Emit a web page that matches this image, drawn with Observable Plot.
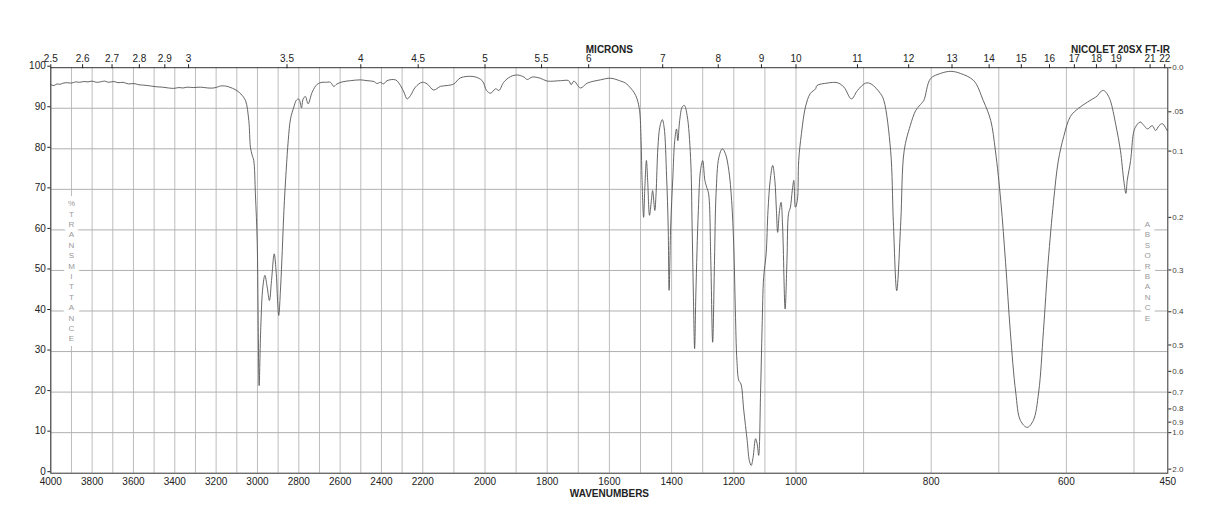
<!DOCTYPE html>
<html><head><meta charset="utf-8">
<script src="https://cdn.jsdelivr.net/npm/d3@7"></script>
<script src="https://cdn.jsdelivr.net/npm/@observablehq/plot@0.6"></script>
<style>
body{margin:0;background:#fff;}
</style></head><body>
<script>
// Spectrum readings: wavenumber (cm-1) and % transmittance
const wavenumber = [
4000,3985,3970,3955,3940,3921,3900,3880,3860,3840,3820,3800,3780,3760,3740,3720,3695,3675,3650,3625,
3598,3575,3550,3518,3490,3460,3430,3405,3380,3360,3340,3310,3276,3240,3211,3190,3179,3160,3147,3120,
3098,3080,3058,3042,3034,3026,3018,3010,3001,2997,2992,2984,2974,2964,2953,2942,2932,2919,2909,2902,
2897,2888,2880,2872,2861,2851,2840,2824,2813,2803,2797,2787,2779,2768,2755,2735,2711,2687,2671,2647,
2631,2615,2590,2550,2502,2470,2437,2421,2405,2390,2373,2332,2308,2290,2276,2260,2236,2203,2186,2165,
2143,2122,2100,2079,2036,2009,1995,1982,1966,1955,1940,1918,1896,1875,1864,1848,1822,1800,1757,1731,
1723,1714,1693,1671,1629,1596,1564,1548,1532,1520,1511,1503,1498,1495,1490,1486,1481,1477,1471,1465,
1461,1454,1450,1444,1438,1430,1424,1416,1411,1408,1403,1396,1390,1384,1380,1374,1366,1359,1350,1339,
1334,1330,1326,1322,1314,1307,1300,1293,1287,1281,1274,1268,1262,1257,1248,1237,1227,1216,1207,1200,
1195,1190,1184,1177,1168,1157,1150,1144,1138,1130,1125,1120,1114,1109,1104,1096,1090,1083,1075,1068,
1063,1059,1053,1048,1043,1035,1029,1024,1018,1012,1007,1002,998,996,992,986,979,971,969,954,
939,929,918,909,897,889,875,870,860,856,851,845,840,831,823,816,811,801,786,771,
757,737,723,712,705,697,690,683,675,668,658,649,641,634,627,619,612,604,594,582,
569,554,550,545,540,535,527,520,515,512,510,505,501,498,491,485,480,473,468,463,
458,451
];
const transmittance = [
95.8,95.6,96.0,95.9,96.2,96.3,96.2,96.5,96.4,96.6,96.5,96.7,96.4,96.5,96.7,96.4,96.6,96.3,96.4,96.0,
96.1,95.8,95.7,95.5,95.3,95.2,95.0,94.9,95.1,95.0,95.2,95.1,95.2,95.0,95.0,95.3,95.5,95.5,95.4,94.9,
94.3,93.5,91.9,87.0,80.4,78.5,77.1,68.9,56.6,40.1,21.6,36.0,45.9,48.8,45.9,42.6,47.5,54.1,49.2,41.8,
38.9,45.9,54.9,64.8,74.7,82.1,87.4,90.3,91.9,92.3,92.1,90.1,92.3,92.9,91.1,94.0,95.9,96.4,96.4,96.4,
95.4,96.0,96.5,96.8,97.0,96.8,96.6,96.1,96.4,96.0,96.8,97.0,95.6,93.8,92.3,93.1,95.2,96.4,96.0,94.5,
95.4,95.6,96.0,97.5,97.8,96.8,94.4,93.7,94.8,94.4,96.4,97.8,98.2,97.7,97.1,97.7,97.4,96.7,96.8,96.8,
95.8,96.7,95.0,96.2,97.0,97.4,96.7,96.2,95.0,93.8,92.3,89.4,82.0,72.2,63.1,70.5,77.1,72.2,63.6,67.3,
69.7,64.8,68.9,80.4,85.3,87.2,85.3,73.0,60.7,45.1,60.7,73.0,82.0,84.9,82.0,87.0,90.3,90.7,88.2,77.9,
60.7,44.2,30.7,44.2,64.8,74.7,77.1,72.2,70.5,68.9,52.5,32.3,52.5,68.9,77.9,80.0,78.8,74.7,67.3,55.7,
40.1,27.8,22.9,22.0,15.5,8.1,3.1,1.9,3.9,8.5,7.3,4.4,19.6,36.0,48.3,54.1,64.8,72.2,75.9,72.2,
64.8,59.4,64.8,66.8,60.7,40.5,52.5,64.0,65.6,69.7,72.2,65.6,67.3,77.1,83.7,90.3,93.6,94.8,95.6,96.2,
96.3,95.2,92.3,94.4,96.2,96.0,93.6,91.9,79.5,62.0,45.0,62.0,79.5,85.7,89.4,90.9,91.9,97.3,98.6,99.1,
98.6,96.8,91.9,87.0,79.5,67.0,52.0,35.0,20.0,13.0,11.3,13.0,20.0,35.0,52.0,67.0,77.0,83.0,88.0,90.0,
91.5,93.1,94.0,94.4,93.6,91.9,86.0,79.5,72.0,69.0,72.2,77.1,83.7,85.3,86.6,85.7,84.9,85.7,84.5,85.7,
86.2,84.5
];

const wavenumberTicks = [4000,3800,3600,3400,3200,3000,2800,2600,2400,2200,2000,1800,1600,1400,1200,1000,800,600,450];
const micronTicks = [2.5,2.6,2.7,2.8,2.9,3,3.5,4,4.5,5,5.5,6,7,8,9,10,11,12,13,14,15,16,17,18,19,21,22];
const transmittanceTicks = [0,10,20,30,40,50,60,70,80,90,100];
const absorbanceTicks = [0,0.05,0.1,0.2,0.3,0.4,0.5,0.6,0.7,0.8,0.9,1.0,2.0];
const gridWavenumbers = d3.range(500, 4001, 100);
const gridTransmittance = [10,20,30,40,50,60,70,80,90];

const spectrum = wavenumber.map((w, i) => ({w, t: transmittance[i]}));

const chart = Plot.plot({
  width: 1218,
  height: 528,
  marginTop: 67.2,
  marginBottom: 55.3,
  marginLeft: 50.3,
  marginRight: 50.7,
  style: {fontFamily: "'Liberation Sans', Arial, Helvetica, sans-serif", fontSize: "10px", background: "#fff", color: "#222"},
  x: {type: "linear", domain: [4000, 2200, 1000, 450], range: [50.3, 422.3, 795.5, 1167.3]},
  y: {domain: [0, 100]},
  marks: [
    Plot.gridX(gridWavenumbers, {stroke: "#bdbdbd", strokeOpacity: 1}),
    Plot.gridY(gridTransmittance, {stroke: "#b0b0b0", strokeOpacity: 1}),
    Plot.text([{w: 3900, t: 50, s: "%\nT\nR\nA\nN\nS\nM\nI\nT\nT\nA\nN\nC\nE"}],
      {x: "w", y: "t", text: "s", fontSize: 8, lineHeight: 1.3, fill: "#999", stroke: "white", strokeWidth: 10}),
    Plot.text([{w: 480, t: 50, s: "A\nB\nS\nO\nR\nB\nA\nN\nC\nE"}],
      {x: "w", y: "t", text: "s", fontSize: 8, lineHeight: 1.3, fill: "#999", stroke: "white", strokeWidth: 10}),
    Plot.line(spectrum, {x: "w", y: "t", stroke: "#555", strokeWidth: 0.9, curve: "catmull-rom"}),
    Plot.frame({stroke: "#333", strokeWidth: 1}),
    Plot.axisX(wavenumberTicks, {anchor: "bottom", tickSize: 0, tickPadding: 5, tickFormat: d => String(d), label: null, fontSize: 10}),
    Plot.axisX(micronTicks.map(m => 10000 / m), {anchor: "top", tickSize: 4, tickPadding: 2, tickFormat: w => String(+(10000 / w).toFixed(1)), label: null, fontSize: 10}),
    Plot.axisY(transmittanceTicks, {anchor: "left", tickSize: 3, tickPadding: 2, dy: -1.5, tickFormat: d => String(d), label: null, fontSize: 10}),
    Plot.axisY(absorbanceTicks.map(a => 100 * Math.pow(10, -a)), {anchor: "right", tickSize: 3, tickPadding: 1.5, fontSize: 8, fill: "#444",
      tickFormat: t => { const a = Math.round(-Math.log10(t / 100) * 100) / 100; return a === 0.05 ? ".05" : a.toFixed(1); }, label: null}),
    Plot.text(["MICRONS"], {x: () => 1600, frameAnchor: "top", dy: -22, fontWeight: "bold", fontSize: 10}),
    Plot.text(["NICOLET 20SX FT-IR"], {x: () => 520, frameAnchor: "top", dy: -22, fontWeight: "bold", fontSize: 10}),
    Plot.text(["WAVENUMBERS"], {x: () => 1600, frameAnchor: "bottom", dy: 24, fontWeight: "bold", fontSize: 10})
  ]
});
document.body.appendChild(chart);
</script>
</body></html>
